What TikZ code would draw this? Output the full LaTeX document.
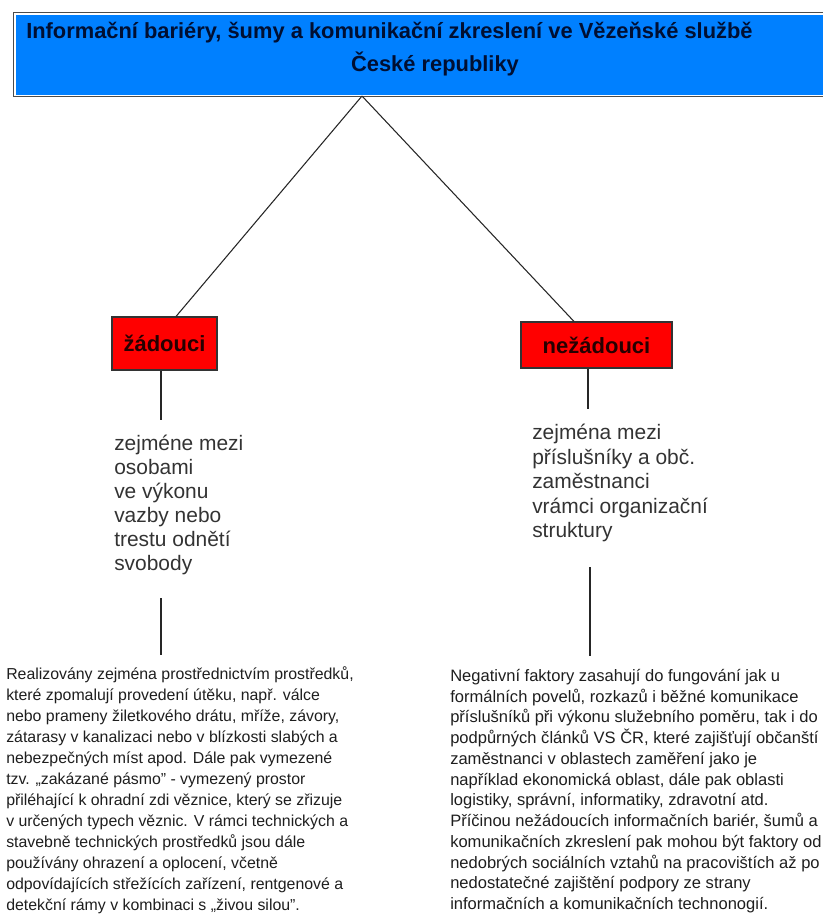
\documentclass[tikz,border=0pt]{standalone}
\usepackage{fontspec}
\setmainfont{Liberation Sans}
\definecolor{titleblue}{RGB}{0,128,255}
\definecolor{boxred}{RGB}{255,0,0}
\definecolor{txt}{RGB}{30,30,30}
\definecolor{navy}{RGB}{0,15,50}
\begin{document}
\begin{tikzpicture}[x=0.75pt,y=-0.75pt,
  conn/.style={draw=black!85, line width=0.8pt},
  titlebox/.style={draw=black!70, fill=white, line width=1.1pt, inner sep=0, anchor=north west},
  titletext/.style={inner sep=0, font=\fontsize{16.4}{18}\selectfont\bfseries, text=navy},
  redbox/.style={draw=black!80, fill=boxred, line width=0.8pt, inner sep=0,
    font=\fontsize{16.5}{18}\selectfont\bfseries, text=black!85!red},
  midtext/.style={anchor=north west, inner sep=0, align=left,
    font=\fontsize{15.7}{18}\selectfont, text=black!80},
  paraL/.style={anchor=north west, inner sep=0, align=left,
    font=\fontsize{11.9}{15.75}\selectfont, text=txt},
  paraR/.style={anchor=north west, inner sep=0, align=left,
    font=\fontsize{12.4}{15.55}\selectfont, text=txt}
]
\useasboundingbox (0,0) rectangle (822,918);

% title
\node[titlebox, minimum width=620pt, minimum height=63pt] (title) at (13,12) {};
\fill[titleblue] ([shift={(2.5,2.5)}]title.north west) rectangle ([shift={(-2.5,-2.5)}]title.south east);
\node[titletext, anchor=west] (t1) at (26,33) {Informační bariéry, šumy a komunikační zkreslení ve Vězeňské službě};
\node[titletext] (t2) at (435,64) {České republiky};
\coordinate (apex) at (362,96);

% red boxes
\node[redbox, minimum width=78.75pt, minimum height=39.75pt] (zad) at (164.5,343.5) {žádouci};
\node[redbox, minimum width=113.25pt, minimum height=34.5pt] (nezad) at (596.5,345) {nežádouci};

\draw[conn] (apex) -- (zad.north -| 176,0);
\draw[conn] (apex) -- (nezad.north -| 574,0);

% middle texts
\node[midtext] (mL) at (114,435) {zejméne mezi\\osobami\\ve výkonu\\vazby nebo\\trestu odnětí\\svobody};
\node[midtext, font=\fontsize{15.7}{18.4}\selectfont] (mR) at (532,424) {zejména mezi\\příslušníky a obč.\\zaměstnanci\\vrámci organizační\\struktury};

\coordinate (lA) at (161,420);
\coordinate (lB) at (161,598);
\coordinate (lC) at (161,655);
\coordinate (rA) at (588,409);
\coordinate (rB) at (590,567);
\coordinate (rC) at (590,656);
\draw[conn] (zad.south -| lA) -- (lA);
\draw[conn] (lB) -- (lC);
\draw[conn] (nezad.south -| rA) -- (rA);
\draw[conn] (rB) -- (rC);

% paragraphs
\node[paraL] (pL) at (6,666) {Realizovány zejména prostřednictvím prostředků,\\
 které zpomalují provedení útěku, např. válce\\
 nebo prameny žiletkového drátu, mříže, závory,\\
 zátarasy v kanalizaci nebo v blízkosti slabých a\\
 nebezpečných míst apod. Dále pak vymezené\\
 tzv. „zakázané pásmo" - vymezený prostor\\
 přiléhající k ohradní zdi věznice, který se zřizuje\\
 v určených typech věznic. V rámci technických a\\
 stavebně technických prostředků jsou dále\\
 používány ohrazení a oplocení, včetně\\
 odpovídajících střežících zařízení, rentgenové a\\
 detekční rámy v kombinaci s „živou silou".};

\node[paraR] (pR) at (450,669) {Negativní faktory zasahují do fungování jak u\\
formálních povelů, rozkazů i běžné komunikace\\
příslušníků při výkonu služebního poměru, tak i do\\
podpůrných článků VS ČR, které zajišťují občanští\\
zaměstnanci v oblastech zaměření jako je\\
například ekonomická oblast, dále pak oblasti\\
logistiky, správní, informatiky, zdravotní atd.\\
Příčinou nežádoucích informačních bariér, šumů a\\
komunikačních zkreslení pak mohou být faktory od\\
nedobrých sociálních vztahů na pracovištích až po\\
nedostatečné zajištění podpory ze strany\\
informačních a komunikačních technonogií.};
\end{tikzpicture}
\end{document}
